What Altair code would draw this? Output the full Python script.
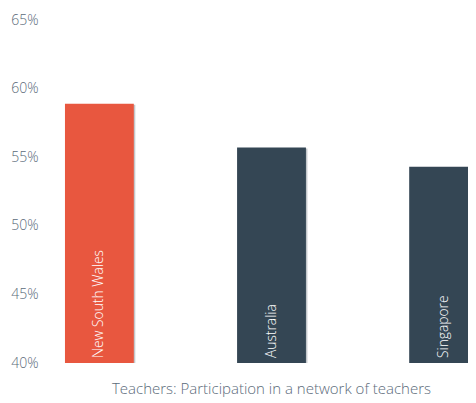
import altair as alt
import pandas as pd

countries = ["New South Wales", "Australia", "Singapore"]
values = [58.9, 55.7, 54.3]
colors = ["#E8573F", "#344654", "#344654"]

df = pd.DataFrame({"country": countries, "value": values, "color": colors, "base": [40] * 3})

x = alt.X("country:N", sort=countries,
          scale=alt.Scale(paddingInner=0.6, paddingOuter=0.116, range=[0, 453]),
          axis=alt.Axis(title="Teachers: Participation in a network of teachers",
                        labels=False, ticks=False, domain=False,
                        titleFont="Open Sans", titleFontSize=15, titleFontWeight=300,
                        titleColor="#5B6B7A", titlePadding=18, titleX=226))
y = alt.Y("value:Q", scale=alt.Scale(domain=[40, 65], nice=False),
          axis=alt.Axis(title=None, values=[40, 45, 50, 55, 60, 65], grid=False, ticks=False,
                        domain=False, labelExpr="datum.value + '%'", labelFont="Open Sans",
                        labelFontSize=14, labelFontWeight=300, labelColor="#5B6B7A", labelPadding=7))

base = alt.Chart(df)
shadow = base.mark_bar(color="#C3C7CB", xOffset=1.5, yOffset=1, clip=True).encode(x=x, y=y, y2="base:Q")
bars = base.mark_bar(clip=True).encode(x=x, y=y, y2="base:Q", color=alt.Color("color:N", scale=None))
labels = base.mark_text(angle=270, align="left", baseline="middle", dx=5, color="white",
                        font="Open Sans", fontSize=13.8, fontWeight=300, clip=True).encode(
    x=x, y=alt.Y("base:Q"), text="country:N")

chart = alt.layer(shadow, bars, labels).properties(
    width=423, height=343, autosize="none",
    padding={"left": 37, "top": 12, "right": 0, "bottom": 40}
).configure_view(stroke=None)

chart.save("out.html", embed_options={"renderer": "svg", "actions": False})
